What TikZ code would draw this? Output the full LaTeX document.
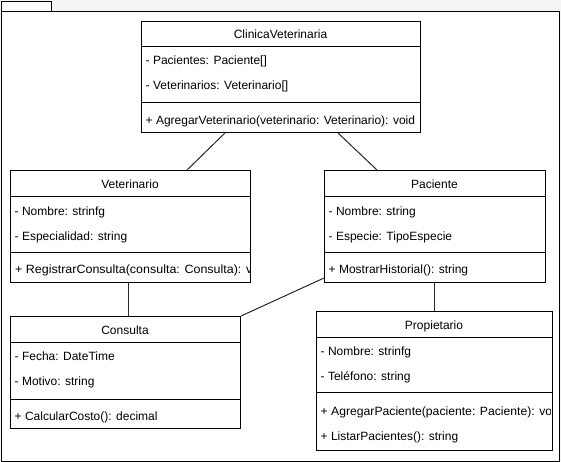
\documentclass[tikz,border=0pt]{standalone}
\usepackage{fontspec}
\setmainfont{Liberation Sans}
\definecolor{bgc}{RGB}{245,245,245}
\definecolor{linec}{RGB}{40,40,40}
\newcommand\myclsfont{\fontsize{12}{14}\selectfont}
\tikzset{
  cls/.style={draw=black, line width=1pt, fill=white, rectangle, anchor=north west, inner sep=0pt},
  txt/.style={anchor=base west, inner sep=0pt, font=\myclsfont},
  ttl/.style={anchor=base, inner sep=0pt, font=\myclsfont},
  sep/.style={draw=black, line width=1pt},
  conn/.style={draw=linec, line width=1pt},
}
\begin{document}
\begin{tikzpicture}[x=1pt,y=-1pt]
\useasboundingbox (0,0) rectangle (561,461);
\fill[bgc] (0,0) rectangle (561,461);
% package
\node[draw=black, line width=1pt, fill=white, anchor=north west, minimum width=50pt, minimum height=10pt, inner sep=0pt] (tab) at (0.5,0.5) {};
\node[draw=black, line width=1pt, fill=white, anchor=north west, minimum width=558.5pt, minimum height=450pt, inner sep=0pt] (pkg) at (0.5,10.5) {};

% classes
\node[cls, minimum width=279pt, minimum height=111pt] (clin) at (141,21) {};
\node[cls, minimum width=240pt, minimum height=112pt] (vet) at (10,170) {};
\node[cls, minimum width=221pt, minimum height=112pt] (pac) at (324,170) {};
\node[cls, minimum width=230pt, minimum height=112pt] (cons) at (10,316) {};
\node[cls, minimum width=236pt, minimum height=139pt] (prop) at (316,311) {};

% ClinicaVeterinaria
\begin{scope}
\clip (clin.south west) rectangle (clin.north east);
\node[ttl] (clinT) at (280.5,38) {ClinicaVeterinaria};
\node[txt] (clinA1) at (145.5,64) {- Pacientes: Paciente[]};
\node[txt] (clinA2) at (145.5,89) {- Veterinarios: Veterinario[]};
\node[txt] (clinM1) at (145.5,124.5) {+ AgregarVeterinario(veterinario: Veterinario): void};
\end{scope}
\draw[sep] (141,46) -- (420,46);
\draw[sep] (141,102) -- (420,102);

% Veterinario
\begin{scope}
\clip (vet.south west) rectangle ([xshift=-1pt]vet.north east);
\node[txt, xscale=1.04] (vetM1) at (15,273) {+ RegistrarConsulta(consulta: Consulta): void};
\node[ttl] (vetT) at (130,188) {Veterinario};
\node[txt] (vetA1) at (14.5,215) {- Nombre: strinfg};
\node[txt] (vetA2) at (14.5,240.5) {- Especialidad: string};
\end{scope}
\draw[sep] (10,196) -- (250,196);
\draw[sep] (10,252) -- (250,252);

% Paciente
\begin{scope}
\clip (pac.south west) rectangle (pac.north east);
\node[ttl] (pacT) at (434.5,188) {Paciente};
\node[txt] (pacA1) at (328.5,215) {- Nombre: string};
\node[txt] (pacA2) at (328.5,240.5) {- Especie: TipoEspecie};
\node[txt] (pacM1) at (328.5,273) {+ MostrarHistorial(): string};
\end{scope}
\draw[sep] (324,196) -- (545,196);
\draw[sep] (324,252.5) -- (545,252.5);

% Consulta
\begin{scope}
\clip (cons.south west) rectangle (cons.north east);
\node[ttl] (consT) at (125,334) {Consulta};
\node[txt] (consA1) at (14.5,360) {- Fecha: DateTime};
\node[txt] (consA2) at (14.5,385.5) {- Motivo: string};
\node[txt] (consM1) at (14.5,420) {+ CalcularCosto(): decimal};
\end{scope}
\draw[sep] (10,342) -- (240,342);
\draw[sep] (10,399) -- (240,399);

% Propietario
\begin{scope}
\clip (prop.south west) rectangle ([xshift=-2.5pt]prop.north east);
\node[ttl] (propT) at (434,329) {Propietario};
\node[txt] (propA1) at (320.5,355) {- Nombre: strinfg};
\node[txt] (propA2) at (320.5,380.5) {- Teléfono: string};
\node[txt, xscale=1.015] (propM1) at (320.5,415) {+ AgregarPaciente(paciente: Paciente): void};
\node[txt] (propM2) at (320.5,440) {+ ListarPacientes(): string};
\end{scope}
\draw[sep] (316,337) -- (552,337);
\draw[sep] (316,392) -- (552,392);

% connectors
\draw[conn] ([xshift=84pt]clin.south west) -- ([xshift=177pt]vet.north west);
\draw[conn] ([xshift=197pt]clin.south west) -- ([xshift=53pt]pac.north west);
\draw[conn] ([xshift=118pt]vet.south west) -- ([xshift=118pt]cons.north west);
\draw[conn] ([yshift=5pt]pac.south west) -- (cons.north east);
\draw[conn] ([xshift=110pt]pac.south west) -- ([xshift=118pt]prop.north west);
\end{tikzpicture}
\end{document}
